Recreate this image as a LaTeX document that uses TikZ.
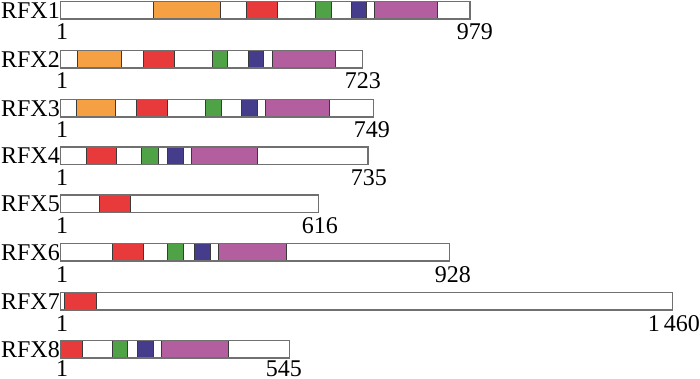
\documentclass[tikz,border=0pt]{standalone}
\usepackage{fontspec}
\setmainfont{Liberation Serif}
\definecolor{dorange}{HTML}{F5A042}
\definecolor{dred}{HTML}{E8393B}
\definecolor{dgreen}{HTML}{4FA246}
\definecolor{dblue}{HTML}{463C8C}
\definecolor{dpurple}{HTML}{B25E9F}
\definecolor{edgegray}{HTML}{707070}
\definecolor{segedge}{HTML}{3A3A3A}
\tikzset{
  segbox/.style={draw=segedge, line width=0.8pt},
  outline/.style={draw=edgegray, line width=1.1pt},
  lab/.style={inner sep=0pt, font=\fontsize{24}{28}\selectfont},
  num/.style={inner sep=0pt, font=\fontsize{24}{28}\selectfont},
}
% #1 name, #2 label, #3 top y, #4 end x, #5 segments, #6 right x of end label, #7 end label, #8 baseline offset
\newcommand\protbar[8]{%
  \fill[white] (60.5,#3) rectangle (#4,#3+17.5);
  \foreach \a/\b/\c in {#5} {
    \filldraw[segbox, fill=\c] (\a,#3) rectangle (\b,#3+17.5);
  }
  \draw[outline] (60.5,#3) rectangle (#4,#3+17.5);
  \node[lab, anchor=east] (#1) at (60,#3+8.75) {#2};
  \node[num, anchor=base] (#1s) at (62,#3+17.5+#8) {1};
  \node[num, anchor=base east] (#1e) at (#6,#3+17.5+#8) {#7};
}
\begin{document}
\begin{tikzpicture}[x=1pt,y=-1pt]
\useasboundingbox[fill=white] (0,0) rectangle (700,379);
\protbar{r1}{RFX1}{1.5}{470}{153.7/220.7/dorange,246/277.7/dred,315.3/331/dgreen,351/366.3/dblue,374/437.3/dpurple}{493}{979}{21}
\protbar{r2}{RFX2}{50.5}{362.7}{77/121.3/dorange,143.7/174/dred,212.3/227.7/dgreen,248.7/263.3/dblue,272.3/335/dpurple}{381}{723}{21}
\protbar{r3}{RFX3}{99.5}{373.3}{76/115/dorange,136.3/167.3/dred,205/221.3/dgreen,241.3/257.7/dblue,265.3/329.3/dpurple}{390}{749}{21}
\protbar{r4}{RFX4}{147}{368}{86/116.7/dred,141.7/158/dgreen,167.7/183.7/dblue,191.7/257.7/dpurple}{387}{735}{21}
\protbar{r5}{RFX5}{195}{318.3}{99/130/dred}{338}{616}{21}
\protbar{r6}{RFX6}{243.5}{449.3}{112.3/143.3/dred,167.7/183.7/dgreen,194.7/210/dblue,218.3/286/dpurple}{471}{928}{21}
\protbar{r7}{RFX7}{292.5}{672.7}{64.3/96/dred}{700}{1\,460}{21}
\protbar{r8}{RFX8}{340.5}{289.3}{60.5/82.7/dred,112.7/127.3/dgreen,137/153.7/dblue,161/228/dpurple}{302}{545}{18}
\end{tikzpicture}
\end{document}
